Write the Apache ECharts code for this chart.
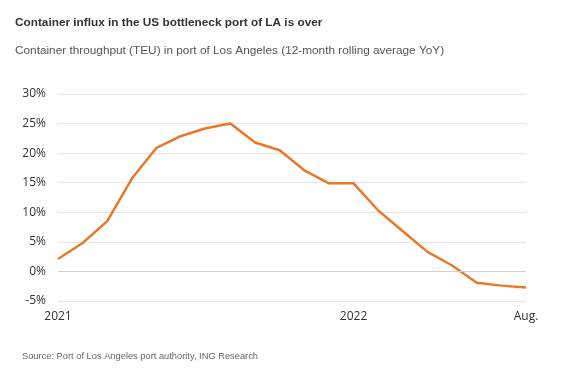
<!DOCTYPE html>
<html>
<head>
<meta charset="utf-8">
<script src="https://cdn.jsdelivr.net/npm/echarts@6/dist/echarts.min.js"></script>
<style>
html,body{margin:0;padding:0;background:#fff;}
#c{width:567px;height:370px;}
</style>
</head>
<body>
<div id="c"></div>
<script>
const months = ['Jan 2021','Feb 2021','Mar 2021','Apr 2021','May 2021','Jun 2021','Jul 2021','Aug 2021','Sep 2021','Oct 2021','Nov 2021','Dec 2021','Jan 2022','Feb 2022','Mar 2022','Apr 2022','May 2022','Jun 2022','Jul 2022','Aug 2022'];
const xTickLabels = {0:'2021', 12:'2022', 19:'Aug.'};
const teuYoY = [2.1, 4.8, 8.5, 15.7, 20.9, 22.9, 24.2, 25.0, 21.8, 20.5, 17.1, 14.9, 14.9, 10.3, 6.8, 3.3, 1.0, -1.9, -2.4, -2.7];

const titleText = 'Container influx in the US bottleneck port of LA is over';
const subtitleText = 'Container throughput (TEU) in port of Los Angeles (12-month rolling average YoY)';
const sourceText = 'Source: Port of Los Angeles port authority, ING Research';

const chart = echarts.init(document.getElementById('c'));
const FONT = '"Open Sans", "Noto Sans", sans-serif';
const TFONT = '"Liberation Sans", Arial, sans-serif';
chart.setOption({
  animation: false,
  backgroundColor: '#fff',
  textStyle: {fontFamily: FONT},
  title: [
    {text: titleText, left: 10, top: 12, textStyle: {fontSize: 11.8, fontWeight: 'bold', color: '#333', fontFamily: TFONT}},
    {text: subtitleText, left: 10, top: 40, textStyle: {fontSize: 11.8, fontWeight: 'normal', color: '#555', fontFamily: TFONT}},
    {text: sourceText, left: 17, top: 347, textStyle: {fontSize: 9.3, fontWeight: 'normal', color: '#666', fontFamily: TFONT}}
  ],
  grid: {left: 58, right: 41, top: 94, bottom: 69, containLabel: false},
  xAxis: {
    type: 'category',
    data: months,
    boundaryGap: false,
    axisLine: {show: false},
    axisTick: {show: false},
    axisLabel: {
      interval: 0,
      margin: 10,
      color: '#333',
      fontSize: 12,
      formatter: (v, i) => xTickLabels[i] || ''
    },
    splitLine: {show: false}
  },
  yAxis: {
    type: 'value',
    min: -5, max: 30, interval: 5,
    axisLine: {show: false},
    axisTick: {show: false},
    axisLabel: {color: '#333', fontSize: 12, margin: 12, formatter: '{value}%'},
    splitLine: {lineStyle: {color: '#e6e6e6', width: 1}}
  },
  series: [{
    type: 'line',
    data: teuYoY,
    symbol: 'none',
    lineStyle: {color: '#E8792B', width: 2.5},
    markLine: {
      silent: true, symbol: 'none', label: {show: false},
      lineStyle: {color: '#cfcfcf', width: 1, type: 'solid'},
      data: [{yAxis: 0}]
    }
  }]
});
</script>
</body>
</html>
